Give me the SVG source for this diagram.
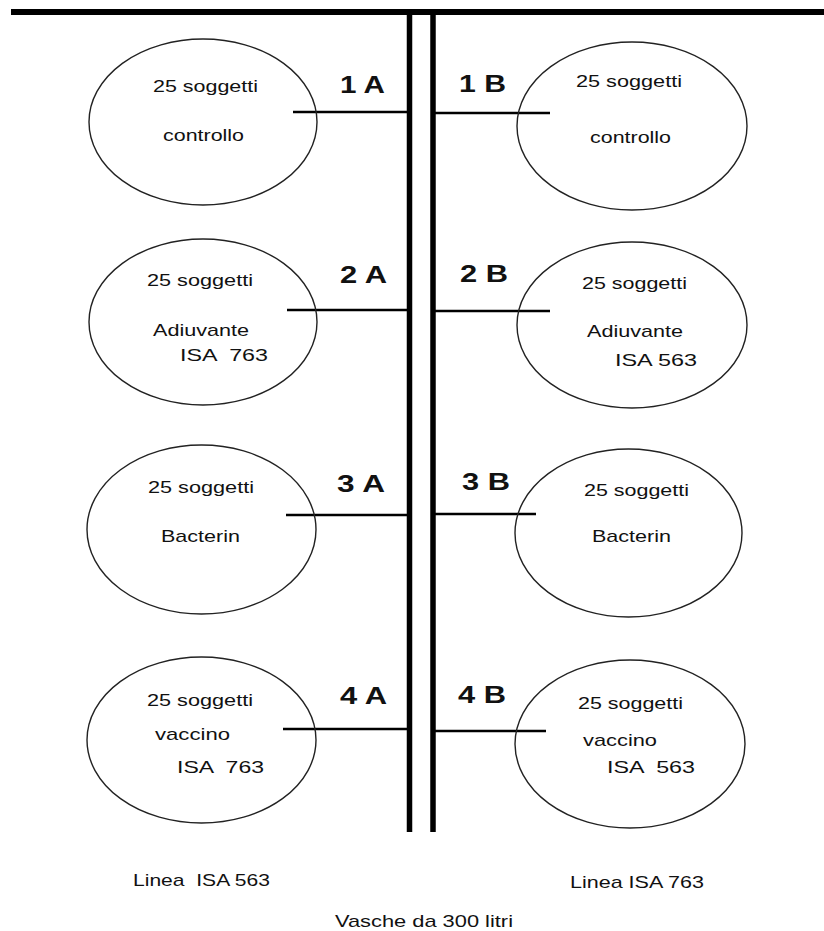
<svg xmlns="http://www.w3.org/2000/svg" width="824" height="931" viewBox="0 0 824 931">
<style>
.bg{fill:#ffffff}
.tank{fill:none;stroke:#222;stroke-width:1.4}
.conn{stroke:#000;stroke-width:2.6;fill:none}
.pipe{stroke:#000;stroke-width:5.5;fill:none}
.t{font-family:"Liberation Sans",Arial,sans-serif;font-size:17px;fill:#111}
.lab{font-family:"Liberation Sans",Arial,sans-serif;font-size:23px;font-weight:bold;fill:#111}
</style>
<rect class="bg" x="0" y="0" width="824" height="931"/>
<g id="pipes">
<rect x="11" y="9" width="813" height="6" fill="#000"/>
<line class="pipe" x1="409.5" y1="12" x2="409.5" y2="832"/>
<line class="pipe" x1="433" y1="12" x2="433" y2="832"/>
</g>
<g id="connectors">
<line class="conn" x1="293" y1="112" x2="407" y2="112"/>
<line class="conn" x1="435" y1="113" x2="550" y2="113"/>
<line class="conn" x1="287" y1="310" x2="407" y2="310"/>
<line class="conn" x1="435" y1="311" x2="550" y2="311"/>
<line class="conn" x1="286" y1="515" x2="407" y2="515"/>
<line class="conn" x1="435" y1="514" x2="536" y2="514"/>
<line class="conn" x1="283" y1="729" x2="407" y2="729"/>
<line class="conn" x1="435" y1="731" x2="546" y2="731"/>
</g>
<g id="tank-1A">
<ellipse class="tank" cx="203" cy="122" rx="114" ry="83"/>
<text class="t" x="153" y="92" textLength="105" lengthAdjust="spacingAndGlyphs">25 soggetti</text>
<text class="t" x="163" y="141" textLength="81" lengthAdjust="spacingAndGlyphs">controllo</text>
<text class="lab" x="340" y="93" textLength="45" lengthAdjust="spacingAndGlyphs">1 A</text>
</g>
<g id="tank-2A">
<ellipse class="tank" cx="203" cy="322" rx="114" ry="83"/>
<text class="t" x="147" y="286" textLength="106" lengthAdjust="spacingAndGlyphs">25 soggetti</text>
<text class="t" x="153" y="336" textLength="96" lengthAdjust="spacingAndGlyphs">Adiuvante</text>
<text class="t" x="180" y="361" textLength="88" lengthAdjust="spacingAndGlyphs" xml:space="preserve">ISA  763</text>
<text class="lab" x="340" y="283" textLength="47" lengthAdjust="spacingAndGlyphs">2 A</text>
</g>
<g id="tank-3A">
<ellipse class="tank" cx="201.5" cy="529.5" rx="114.5" ry="84.5"/>
<text class="t" x="148" y="493" textLength="106" lengthAdjust="spacingAndGlyphs">25 soggetti</text>
<text class="t" x="161" y="542" textLength="79" lengthAdjust="spacingAndGlyphs">Bacterin</text>
<text class="lab" x="337" y="492" textLength="48" lengthAdjust="spacingAndGlyphs">3 A</text>
</g>
<g id="tank-4A">
<ellipse class="tank" cx="201.5" cy="740" rx="114.5" ry="83"/>
<text class="t" x="147" y="706" textLength="106" lengthAdjust="spacingAndGlyphs">25 soggetti</text>
<text class="t" x="155" y="740" textLength="75" lengthAdjust="spacingAndGlyphs">vaccino</text>
<text class="t" x="177" y="773" textLength="87" lengthAdjust="spacingAndGlyphs" xml:space="preserve">ISA  763</text>
<text class="lab" x="340" y="704" textLength="47" lengthAdjust="spacingAndGlyphs">4 A</text>
</g>
<g id="tank-1B">
<ellipse class="tank" cx="632" cy="126" rx="115" ry="84"/>
<text class="t" x="576" y="87" textLength="106" lengthAdjust="spacingAndGlyphs">25 soggetti</text>
<text class="t" x="590" y="143" textLength="81" lengthAdjust="spacingAndGlyphs">controllo</text>
<text class="lab" x="459" y="92" textLength="47" lengthAdjust="spacingAndGlyphs">1 B</text>
</g>
<g id="tank-2B">
<ellipse class="tank" cx="632" cy="325" rx="115" ry="83"/>
<text class="t" x="582" y="289" textLength="105" lengthAdjust="spacingAndGlyphs">25 soggetti</text>
<text class="t" x="587" y="337" textLength="96" lengthAdjust="spacingAndGlyphs">Adiuvante</text>
<text class="t" x="615" y="366" textLength="82" lengthAdjust="spacingAndGlyphs">ISA 563</text>
<text class="lab" x="460" y="282" textLength="48" lengthAdjust="spacingAndGlyphs">2 B</text>
</g>
<g id="tank-3B">
<ellipse class="tank" cx="628.5" cy="533" rx="113.5" ry="84"/>
<text class="t" x="584" y="496" textLength="105" lengthAdjust="spacingAndGlyphs">25 soggetti</text>
<text class="t" x="592" y="542" textLength="79" lengthAdjust="spacingAndGlyphs">Bacterin</text>
<text class="lab" x="462" y="490" textLength="48" lengthAdjust="spacingAndGlyphs">3 B</text>
</g>
<g id="tank-4B">
<ellipse class="tank" cx="630" cy="744" rx="115" ry="84"/>
<text class="t" x="578" y="709" textLength="105" lengthAdjust="spacingAndGlyphs">25 soggetti</text>
<text class="t" x="583" y="746" textLength="74" lengthAdjust="spacingAndGlyphs">vaccino</text>
<text class="t" x="607" y="773" textLength="88" lengthAdjust="spacingAndGlyphs" xml:space="preserve">ISA  563</text>
<text class="lab" x="458" y="703" textLength="48" lengthAdjust="spacingAndGlyphs">4 B</text>
</g>
<g id="captions">
<text class="t" x="133" y="886" textLength="137" lengthAdjust="spacingAndGlyphs" xml:space="preserve">Linea  ISA 563</text>
<text class="t" x="570" y="888" textLength="134" lengthAdjust="spacingAndGlyphs">Linea ISA 763</text>
<text class="t" x="335" y="927" textLength="178" lengthAdjust="spacingAndGlyphs">Vasche da 300 litri</text>
</g>
</svg>
